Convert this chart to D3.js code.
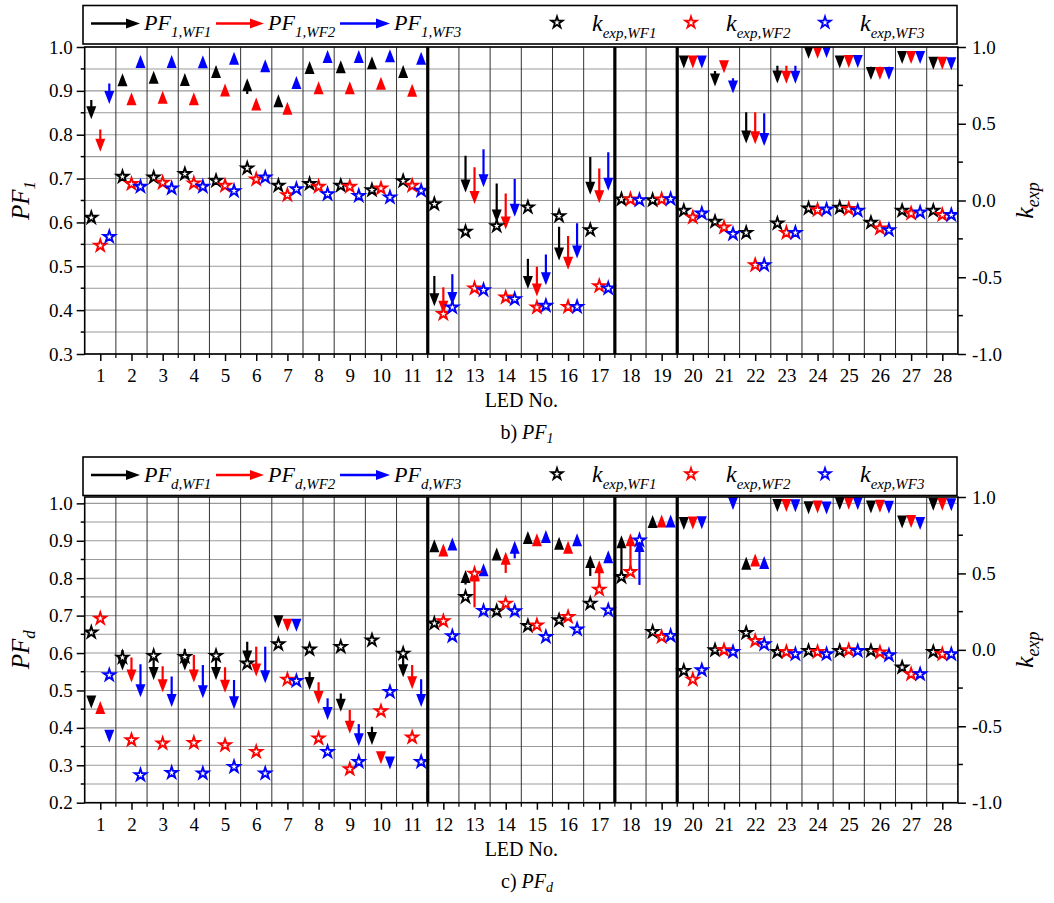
<!DOCTYPE html>
<html>
<head>
<meta charset="utf-8">
<script src="https://cdn.jsdelivr.net/npm/d3@7"></script>
<style>
  body { margin: 0; background: #fff; }
  svg { display: block; }
  svg text { font-family: "Liberation Serif", "Tinos", "DejaVu Serif", "Times New Roman", Times, serif !important; fill: #000; }
</style>
</head>
<body>
<svg id="chart" width="1054" height="903"></svg>
<script>
// ---------- data ----------
const leds = d3.range(1, 29);
const ledLabels = leds.map(String);
const colors = ["#000000", "#ff0000", "#0000ff"];

// panel b) PF1 — each arrow runs from the start value to the end value (arrow tip)
const pf1StartWF1 = [0.879, 0.930, 0.936, 0.931, 0.949, 0.893, 0.882, 0.958, 0.960, 0.969, 0.949, 0.478, 0.752, 0.689, 0.517, 0.590, 0.749, null, null, 0.961, 0.945, 0.851, 0.957, 0.983, 0.961, 0.955, 0.971, 0.958];
const pf1EndWF1   = [0.835, 0.940, 0.946, 0.941, 0.959, 0.929, 0.892, 0.968, 0.970, 0.979, 0.959, 0.409, 0.668, 0.600, 0.448, 0.513, 0.663, null, null, 0.951, 0.910, 0.780, 0.917, 0.973, 0.951, 0.925, 0.961, 0.948];
const pf1StartWF2 = [0.812, 0.887, 0.890, 0.887, 0.907, 0.875, 0.865, 0.912, 0.912, 0.922, 0.906, 0.452, 0.726, 0.666, 0.499, 0.569, 0.723, null, null, 0.961, 0.950, 0.851, 0.957, 0.983, 0.962, 0.955, 0.971, 0.958];
const pf1EndWF2   = [0.761, 0.897, 0.900, 0.897, 0.917, 0.885, 0.875, 0.922, 0.922, 0.932, 0.916, 0.392, 0.642, 0.584, 0.431, 0.492, 0.644, null, null, 0.951, 0.940, 0.778, 0.916, 0.973, 0.952, 0.925, 0.961, 0.948];
const pf1StartWF3 = [0.917, 0.972, 0.972, 0.971, 0.979, 0.962, 0.924, 0.983, 0.983, 0.985, 0.979, 0.482, 0.767, 0.699, 0.527, 0.598, 0.760, null, null, 0.961, 0.929, 0.849, 0.957, 0.985, 0.962, 0.955, 0.971, 0.957];
const pf1EndWF3   = [0.870, 0.982, 0.982, 0.981, 0.989, 0.972, 0.934, 0.993, 0.993, 0.995, 0.989, 0.412, 0.680, 0.613, 0.457, 0.518, 0.672, null, null, 0.951, 0.894, 0.774, 0.916, 0.975, 0.952, 0.925, 0.961, 0.947];

const kExp1WF1 = [-0.112, 0.155, 0.151, 0.173, 0.129, 0.210, 0.097, 0.108, 0.097, 0.068, 0.127, -0.023, -0.203, -0.166, -0.044, -0.101, -0.192, 0.008, 0.003, -0.066, -0.138, -0.210, -0.149, -0.051, -0.047, -0.144, -0.066, -0.066];
const kExp1WF2 = [-0.294, 0.108, 0.116, 0.112, 0.097, 0.138, 0.036, 0.090, 0.090, 0.079, 0.097, -0.739, -0.572, -0.631, -0.696, -0.692, -0.557, 0.008, 0.008, -0.110, -0.175, -0.420, -0.210, -0.062, -0.055, -0.181, -0.084, -0.094];
const kExp1WF3 = [-0.236, 0.090, 0.079, 0.090, 0.062, 0.151, 0.075, 0.042, 0.031, 0.021, 0.064, -0.696, -0.583, -0.642, -0.685, -0.692, -0.572, 0.003, 0.010, -0.084, -0.218, -0.420, -0.210, -0.058, -0.066, -0.192, -0.077, -0.094];

// panel c) PFd
const pfdStartWF1 = [0.465, 0.608, 0.603, 0.611, 0.603, 0.630, 0.676, 0.550, 0.492, 0.403, 0.597, 0.894, 0.783, 0.865, 0.916, 0.901, 0.806, 0.800, 0.959, 0.939, null, 0.847, 0.987, 0.981, 0.992, 0.983, 0.943, 0.990];
const pfdEndWF1   = [0.452, 0.553, 0.528, 0.553, 0.528, 0.572, 0.666, 0.501, 0.443, 0.354, 0.535, 0.904, 0.822, 0.882, 0.926, 0.911, 0.862, 0.915, 0.969, 0.929, null, 0.857, 0.977, 0.971, 0.982, 0.973, 0.933, 0.980];
const pfdStartWF2 = [0.462, 0.588, 0.565, 0.595, 0.562, 0.617, 0.667, 0.522, 0.448, 0.313, 0.568, 0.883, 0.722, 0.814, 0.910, 0.890, 0.782, 0.817, 0.960, 0.940, null, 0.856, 0.987, 0.983, 0.993, 0.985, 0.944, 0.990];
const pfdEndWF2   = [0.472, 0.521, 0.495, 0.521, 0.494, 0.537, 0.657, 0.464, 0.384, 0.303, 0.503, 0.893, 0.826, 0.871, 0.920, 0.900, 0.848, 0.920, 0.970, 0.930, null, 0.866, 0.977, 0.973, 0.983, 0.975, 0.934, 0.980];
const pfdStartWF3 = [0.370, 0.570, 0.537, 0.568, 0.528, 0.617, 0.667, 0.479, 0.410, 0.299, 0.530, 0.899, 0.830, 0.853, 0.919, 0.910, 0.865, 0.782, 0.960, 0.941, 0.992, 0.849, 0.986, 0.980, 0.992, 0.982, 0.939, 0.989];
const pfdEndWF3   = [0.360, 0.482, 0.456, 0.479, 0.450, 0.519, 0.657, 0.421, 0.351, 0.289, 0.456, 0.909, 0.840, 0.900, 0.929, 0.920, 0.875, 0.905, 0.970, 0.931, 0.982, 0.859, 0.976, 0.970, 0.982, 0.972, 0.929, 0.979];

const kExpdWF1 = [0.114, -0.050, -0.039, -0.046, -0.039, -0.089, 0.037, 0.003, 0.020, 0.063, -0.024, 0.173, 0.346, 0.253, 0.157, 0.194, 0.303, 0.477, 0.118, -0.137, -0.002, 0.111, -0.013, -0.007, -0.007, -0.007, -0.115, -0.013];
const kExpdWF2 = [0.205, -0.590, -0.612, -0.608, -0.623, -0.667, -0.194, -0.579, -0.780, -0.401, -0.573, 0.188, 0.499, 0.303, 0.161, 0.216, 0.395, 0.510, 0.085, -0.194, -0.002, 0.059, -0.013, -0.013, -0.002, -0.017, -0.159, -0.028];
const kExpdWF3 = [-0.165, -0.819, -0.804, -0.808, -0.765, -0.808, -0.203, -0.667, -0.732, -0.275, -0.732, 0.090, 0.255, 0.253, 0.085, 0.135, 0.259, 0.717, 0.092, -0.133, -0.013, 0.037, -0.028, -0.028, -0.007, -0.035, -0.159, -0.028];

// group separators (between LED groups)
const separators = [11.5, 17.5, 19.5];

const kTicks = [-1.0, -0.5, 0.0, 0.5, 1.0];
const kMinorTicks = [-0.75, -0.25, 0.25, 0.75];

// ---------- drawing ----------
const FONT = "'Liberation Serif', 'Tinos', 'DejaVu Serif', 'Times New Roman', Times, serif";
const svg = d3.select("#chart").attr("font-family", FONT);
svg.append("rect").attr("width", 1054).attr("height", 903).attr("fill", "#fff");

const X0 = 84.7, X1 = 957.9;
const x = d3.scaleLinear().domain([0.5, 28.5]).range([X0, X1]);
const offsets = [-9, 0, 9];

function rich(sel, parts) {
  // parts: [text, italic, size, dy]
  sel.attr("font-family", FONT);
  parts.forEach(p => {
    sel.append("tspan")
      .text(p[0])
      .attr("font-style", p[1] ? "italic" : "normal")
      .attr("font-size", p[2])
      .attr("dy", p[3] || 0);
  });
  return sel;
}

function arrow(g, xp, y0, y1, color, hl, hw, sw) {
  const dir = y1 >= y0 ? 1 : -1;
  const len = Math.abs(y1 - y0);
  if (len > hl) {
    g.append("line")
      .attr("x1", xp).attr("x2", xp)
      .attr("y1", y0).attr("y2", y1 - dir * (hl - 1))
      .attr("stroke", color).attr("stroke-width", sw);
  }
  g.append("path")
    .attr("d", `M${xp},${y1} L${xp - hw},${y1 - dir * hl} L${xp + hw},${y1 - dir * hl} Z`)
    .attr("fill", color);
}

function hArrow(g, xa, xb, yc, color) {
  g.append("line").attr("x1", xa).attr("x2", xb - 12).attr("y1", yc).attr("y2", yc)
    .attr("stroke", color).attr("stroke-width", 2.6);
  g.append("path")
    .attr("d", `M${xb},${yc} L${xb - 14},${yc - 5} L${xb - 14},${yc + 5} Z`)
    .attr("fill", color);
}

const star = d3.symbol().type(d3.symbolStar);

function styleAxis(sel) {
  sel.attr("font-family", FONT);
  sel.select(".domain").remove();
  sel.selectAll("line").attr("stroke-width", 1.5);
  sel.selectAll("text").attr("font-size", 19).attr("font-family", FONT);
}

function drawPanel(cfg) {
  const g = svg.append("g");
  const yL = d3.scaleLinear().domain(cfg.leftDomain).range([cfg.bottom, cfg.top]);
  const yR = d3.scaleLinear().domain([-1, 1]).range([cfg.bottom, cfg.top]);
  const clipId = "clip" + cfg.id;
  svg.append("clipPath").attr("id", clipId)
    .append("rect").attr("x", X0).attr("y", cfg.top).attr("width", X1 - X0).attr("height", cfg.bottom - cfg.top);

  // horizontal grid every 0.05
  const gridVals = d3.range(Math.round(cfg.leftDomain[0] * 20), Math.floor(cfg.leftDomain[1] * 20 + 1e-6) + 1).map(v => v / 20);
  g.append("g").selectAll("line").data(gridVals).join("line")
    .attr("x1", X0).attr("x2", X1)
    .attr("y1", d => yL(d)).attr("y2", d => yL(d))
    .attr("stroke", "#9a9a9a").attr("stroke-width", 1.1);

  // vertical grid between LEDs
  const bounds = d3.range(1, 28).map(v => v + 0.5).filter(v => !separators.includes(v));
  g.append("g").selectAll("line").data(bounds).join("line")
    .attr("x1", d => x(d)).attr("x2", d => x(d))
    .attr("y1", cfg.top).attr("y2", cfg.bottom)
    .attr("stroke", "#333").attr("stroke-width", 1);

  // arrows
  const marks = g.append("g").attr("clip-path", `url(#${clipId})`);
  cfg.arrows.forEach((pair, w) => {
    const [st, en] = pair;
    leds.forEach((led, i) => {
      if (st[i] == null || en[i] == null) return;
      arrow(marks, x(led) + offsets[w], yL(st[i]), yL(en[i]), colors[w], 13, 5, 2.2);
    });
  });

  // group separators
  g.append("g").selectAll("line").data(separators).join("line")
    .attr("x1", d => x(d)).attr("x2", d => x(d))
    .attr("y1", cfg.top).attr("y2", cfg.bottom)
    .attr("stroke", "#000").attr("stroke-width", 3.2);

  // k_exp stars
  cfg.stars.forEach((arr, w) => {
    marks.append("g").selectAll("path").data(leds).join("path")
      .attr("d", star.size(42))
      .attr("transform", (d, i) => `translate(${x(d) + offsets[w]},${yR(arr[i])})`)
      .attr("fill", "#fff").attr("stroke", colors[w]).attr("stroke-width", 1.9)
      .attr("stroke-linejoin", "miter");
  });

  // frame
  g.append("rect").attr("x", X0).attr("y", cfg.top).attr("width", X1 - X0).attr("height", cfg.bottom - cfg.top)
    .attr("fill", "none").attr("stroke", "#000").attr("stroke-width", 1.6);

  // left axis
  const leftAxis = d3.axisLeft(yL).tickValues(cfg.leftTicks).tickSize(8).tickSizeOuter(0)
    .tickFormat(d => d.toFixed(1)).tickPadding(4);
  g.append("g").attr("transform", `translate(${X0},0)`).call(leftAxis).call(styleAxis);
  g.append("g").selectAll("line").data(cfg.leftMinor).join("line")
    .attr("x1", X0 - 4).attr("x2", X0).attr("y1", d => yL(d)).attr("y2", d => yL(d))
    .attr("stroke", "#000").attr("stroke-width", 1.5);

  // right axis
  const rightAxis = d3.axisRight(yR).tickValues(kTicks).tickSize(8).tickSizeOuter(0)
    .tickFormat(d => d.toFixed(1)).tickPadding(6);
  g.append("g").attr("transform", `translate(${X1},0)`).call(rightAxis).call(styleAxis);
  g.append("g").selectAll("line").data(kMinorTicks).join("line")
    .attr("x1", X1).attr("x2", X1 + 5).attr("y1", d => yR(d)).attr("y2", d => yR(d))
    .attr("stroke", "#000").attr("stroke-width", 1.5);

  // bottom axis
  const bottomAxis = d3.axisBottom(x).tickValues(leds).tickSize(7).tickSizeOuter(0)
    .tickFormat((d, i) => ledLabels[i]).tickPadding(8);
  g.append("g").attr("transform", `translate(0,${cfg.bottom})`).call(bottomAxis).call(styleAxis);
  g.append("g").selectAll("line").data(d3.range(1, 28).map(v => v + 0.5)).join("line")
    .attr("x1", d => x(d)).attr("x2", d => x(d)).attr("y1", cfg.bottom).attr("y2", cfg.bottom + 4)
    .attr("stroke", "#000").attr("stroke-width", 1.2);

  // axis titles
  g.append("text").attr("x", (X0 + X1) / 2).attr("y", cfg.bottom + 53)
    .attr("font-family", FONT)
    .attr("text-anchor", "middle").attr("font-size", 20).text("LED No.");
  rich(g.append("text").attr("x", 527).attr("y", cfg.bottom + 85).attr("text-anchor", "middle"),
    [[cfg.caption[0], false, 20], [cfg.caption[1], true, 20], [cfg.caption[2], true, 14, 4]]);

  rich(g.append("text").attr("text-anchor", "middle")
    .attr("transform", `translate(29,${(cfg.top + cfg.bottom) / 2}) rotate(-90)`),
    [["PF", true, 25], [cfg.sub, true, 17, 6]]);
  rich(g.append("text").attr("text-anchor", "middle")
    .attr("transform", `translate(1033,${(cfg.top + cfg.bottom) / 2}) rotate(-90)`),
    [["k", true, 26], ["exp", true, 18, 6]]);

  // legend
  const lg = svg.append("g");
  const lt = cfg.legendTop;
  lg.append("rect").attr("x", 83).attr("y", lt).attr("width", 874).attr("height", 38.5)
    .attr("fill", "#fff").attr("stroke", "#000").attr("stroke-width", 1.6);
  const ay = lt + 18;
  const arrowSpans = [[91, 140], [216, 264], [340, 390]];
  arrowSpans.forEach((s, w) => {
    hArrow(lg, s[0], s[1], ay, colors[w]);
    rich(lg.append("text").attr("x", s[1] + 4).attr("y", ay + 6.5),
      [["PF", true, 22], [cfg.sub + ",WF" + (w + 1), true, 15, 7]]);
  });
  const starX = [557, 691, 825];
  starX.forEach((sx, w) => {
    lg.append("path").attr("d", star.size(40))
      .attr("transform", `translate(${sx},${ay - 1})`)
      .attr("fill", "#fff").attr("stroke", colors[w]).attr("stroke-width", 1.8);
    rich(lg.append("text").attr("x", sx + 35).attr("y", ay + 7),
      [["k", true, 24], ["exp,WF" + (w + 1), true, 15, 7]]);
  });
}

drawPanel({
  id: "b", top: 47, bottom: 354, legendTop: 5.5,
  leftDomain: [0.3, 1.0],
  leftTicks: d3.range(3, 11).map(v => v / 10),
  leftMinor: d3.range(3, 10).map(v => v / 10 + 0.05),
  sub: "1",
  caption: ["b) ", "PF", "1"],
  arrows: [[pf1StartWF1, pf1EndWF1], [pf1StartWF2, pf1EndWF2], [pf1StartWF3, pf1EndWF3]],
  stars: [kExp1WF1, kExp1WF2, kExp1WF3]
});

drawPanel({
  id: "c", top: 497, bottom: 802.7, legendTop: 457,
  leftDomain: [0.2, 1.017],
  leftTicks: d3.range(2, 11).map(v => v / 10),
  leftMinor: d3.range(2, 10).map(v => v / 10 + 0.05),
  sub: "d",
  caption: ["c) ", "PF", "d"],
  arrows: [[pfdStartWF1, pfdEndWF1], [pfdStartWF2, pfdEndWF2], [pfdStartWF3, pfdEndWF3]],
  stars: [kExpdWF1, kExpdWF2, kExpdWF3]
});
</script>
</body>
</html>
